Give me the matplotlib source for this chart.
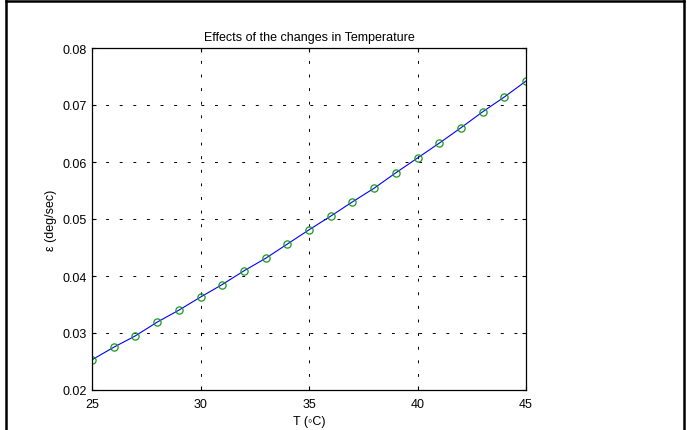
import matplotlib
matplotlib.use("Agg")
import matplotlib.pyplot as plt
from matplotlib.lines import Line2D

temperature = [25, 26, 27, 28, 29, 30, 31, 32, 33, 34, 35,
               36, 37, 38, 39, 40, 41, 42, 43, 44, 45]
epsilon = [0.0253, 0.0275, 0.0295, 0.0319, 0.0340, 0.0363, 0.0385, 0.0409,
           0.0431, 0.0456, 0.0481, 0.0505, 0.0530, 0.0554, 0.0581, 0.0607,
           0.0633, 0.0660, 0.0688, 0.0714, 0.0742]
x_ticks = [25, 30, 35, 40, 45]
y_ticks = [0.02, 0.03, 0.04, 0.05, 0.06, 0.07, 0.08]

plt.rcParams['font.family'] = ['Liberation Sans', 'DejaVu Sans']
plt.rcParams['font.size'] = 9

fig = plt.figure(figsize=(6.87, 4.31), dpi=100)
ax = fig.add_axes([92/687, 40/431, 434/687, 342/431])

ax.plot(temperature, epsilon, color=(0, 0, 1), linewidth=0.8)
ax.plot(temperature, epsilon, linestyle='none', marker='o', markersize=5.2,
        markerfacecolor='none', markeredgecolor='#1a9a1a', markeredgewidth=0.9)

ax.set_xlim(25, 45)
ax.set_ylim(0.02, 0.08)
ax.set_xticks(x_ticks)
ax.set_yticks(y_ticks)
ax.set_xticklabels([str(v) for v in x_ticks])
ax.set_yticklabels([f"{v:.2f}" for v in y_ticks])
ax.tick_params(direction='in', top=True, right=True, length=3, width=0.8,
               labelsize=9)
ax.tick_params(axis='x', pad=5.5)
ax.tick_params(axis='y', pad=4)
ax.grid(True, color='k', linestyle=(0, (3, 11)), linewidth=0.7)
for s in ax.spines.values():
    s.set_linewidth(0.9)

ax.set_title("Effects of the changes in Temperature", fontsize=9, pad=6)
ax.set_xlabel("T (\u25e6C)", fontsize=9, labelpad=4)
ax.set_ylabel("\u03b5 (deg/sec)", fontsize=9, labelpad=4)

# outer frame (left, top, right)
W, H = 687, 431
fig.add_artist(Line2D([6/W, 6/W], [0, 1 - 2/H], transform=fig.transFigure,
                      color='k', linewidth=1.8, solid_capstyle='projecting'))
fig.add_artist(Line2D([6/W, 684/W], [1 - 2/H, 1 - 2/H], transform=fig.transFigure,
                      color='k', linewidth=1.8, solid_capstyle='projecting'))
fig.add_artist(Line2D([684/W, 684/W], [0, 1 - 2/H], transform=fig.transFigure,
                      color='k', linewidth=1.8, solid_capstyle='projecting'))

fig.savefig("out.png", dpi=100)
